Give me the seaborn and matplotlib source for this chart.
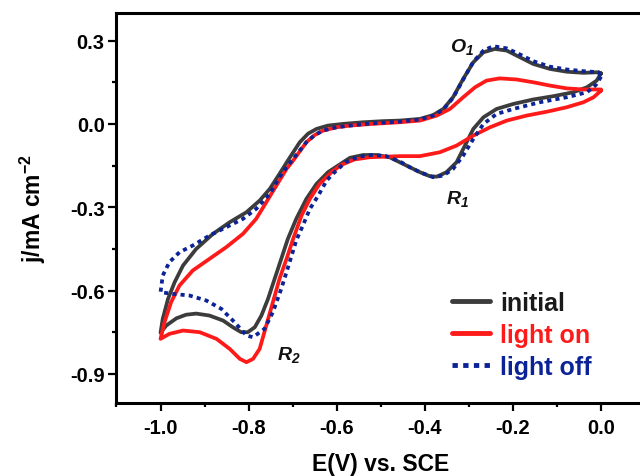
import matplotlib
matplotlib.use("Agg")
import matplotlib.pyplot as plt
from matplotlib.ticker import MultipleLocator
import numpy as np
import pandas as pd
import seaborn as sns

# Cyclic voltammograms: potential (V vs. SCE) and current density (mA cm^-2),
# each traced from 0 V down to -1.0 V (cathodic sweep) and back up to 0 V.
initial_E = [0.0, -0.010, -0.032, -0.063, -0.108, -0.154, -0.199, -0.237, -0.267, -0.290,
             -0.309, -0.328, -0.351, -0.373, -0.389, -0.411, -0.434, -0.457, -0.48, -0.51,
             -0.54, -0.57, -0.597, -0.620, -0.646, -0.669, -0.692, -0.711, -0.726, -0.741,
             -0.756, -0.771, -0.786, -0.802, -0.817, -0.836, -0.858, -0.889, -0.919,
             -0.942, -0.964, -0.987, -1.0,
             -0.995, -0.983, -0.968, -0.949, -0.919, -0.881, -0.843, -0.805, -0.775,
             -0.752, -0.730, -0.711, -0.684, -0.665, -0.646, -0.62, -0.586, -0.54, -0.495,
             -0.457, -0.411, -0.381, -0.358, -0.336, -0.313, -0.290, -0.267, -0.241,
             -0.214, -0.184, -0.154, -0.116, -0.078, -0.040, -0.006, 0.0]
initial_j = [0.182, 0.156, 0.132, 0.114, 0.100, 0.088, 0.072, 0.054, 0.024, -0.018,
             -0.078, -0.138, -0.174, -0.190, -0.188, -0.174, -0.156, -0.138, -0.12, -0.112,
             -0.112, -0.122, -0.150, -0.174, -0.216, -0.270, -0.342, -0.414, -0.486, -0.558,
             -0.630, -0.690, -0.732, -0.750, -0.750, -0.732, -0.708, -0.690, -0.683,
             -0.687, -0.700, -0.726, -0.752,
             -0.702, -0.630, -0.570, -0.510, -0.450, -0.396, -0.354, -0.318, -0.276,
             -0.234, -0.180, -0.132, -0.066, -0.035, -0.018, -0.006, 0.0, 0.006, 0.010,
             0.012, 0.018, 0.032, 0.054, 0.096, 0.162, 0.222, 0.258, 0.270,
             0.264, 0.240, 0.216, 0.198, 0.188, 0.184, 0.186, 0.182]

light_on_E = [0.0, -0.017, -0.040, -0.078, -0.123, -0.169, -0.214, -0.252, -0.290, -0.328,
              -0.366, -0.411, -0.457, -0.49, -0.525, -0.56, -0.59, -0.612, -0.639, -0.661,
              -0.680, -0.699, -0.714, -0.730, -0.745, -0.760, -0.775, -0.790, -0.805,
              -0.820, -0.843, -0.873, -0.911, -0.949, -0.980, -1.0,
              -0.991, -0.976, -0.957, -0.927, -0.889, -0.851, -0.813, -0.783, -0.760,
              -0.737, -0.714, -0.699, -0.669, -0.65, -0.631, -0.60, -0.57, -0.52, -0.457,
              -0.411, -0.373, -0.343, -0.313, -0.286, -0.260, -0.230, -0.192, -0.154,
              -0.116, -0.078, -0.040, 0.0, 0.0]
light_on_j = [0.120, 0.096, 0.078, 0.060, 0.044, 0.030, 0.012, -0.012, -0.042, -0.078,
              -0.102, -0.116, -0.116, -0.118, -0.12, -0.128, -0.148, -0.174, -0.216, -0.270,
              -0.330, -0.414, -0.486, -0.558, -0.642, -0.726, -0.810, -0.846, -0.858,
              -0.846, -0.810, -0.774, -0.750, -0.744, -0.756, -0.774,
              -0.714, -0.642, -0.582, -0.528, -0.486, -0.444, -0.396, -0.342, -0.282,
              -0.222, -0.162, -0.132, -0.066, -0.04, -0.024, -0.012, -0.006, 0.0, 0.006,
              0.012, 0.030, 0.054, 0.096, 0.132, 0.156, 0.164, 0.160, 0.150,
              0.138, 0.128, 0.124, 0.124, 0.120]

light_off_E = [0.0, -0.012, -0.032, -0.078, -0.139, -0.199, -0.237, -0.267, -0.290, -0.313,
               -0.336, -0.358, -0.381, -0.411, -0.434, -0.457, -0.49, -0.52, -0.55, -0.58,
               -0.605, -0.623, -0.642, -0.661, -0.677, -0.692, -0.707, -0.726, -0.745,
               -0.764, -0.790, -0.805, -0.832, -0.862, -0.896, -0.934, -0.972, -1.0,
               -0.995, -0.980, -0.957, -0.927, -0.889, -0.851, -0.813, -0.783, -0.752,
               -0.730, -0.714, -0.699, -0.669, -0.65, -0.631, -0.60, -0.57, -0.52, -0.457,
               -0.411, -0.381, -0.358, -0.336, -0.313, -0.290, -0.267, -0.245, -0.214,
               -0.184, -0.154, -0.116, -0.078, -0.040, -0.006, 0.0]
light_off_j = [0.170, 0.140, 0.114, 0.096, 0.078, 0.054, 0.036, 0.0, -0.054, -0.114,
               -0.162, -0.186, -0.192, -0.174, -0.156, -0.135, -0.115, -0.112, -0.118, -0.138,
               -0.174, -0.204, -0.258, -0.306, -0.366, -0.420, -0.498, -0.594, -0.678,
               -0.738, -0.768, -0.762, -0.714, -0.666, -0.636, -0.618, -0.612, -0.606,
               -0.546, -0.498, -0.462, -0.438, -0.402, -0.372, -0.342, -0.306, -0.252,
               -0.192, -0.156, -0.126, -0.066, -0.04, -0.024, -0.012, -0.006, 0.002, 0.008,
               0.016, 0.030, 0.052, 0.094, 0.160, 0.224, 0.264, 0.280, 0.272,
               0.250, 0.226, 0.206, 0.196, 0.190, 0.186, 0.170]

series_names = ["initial", "light on", "light off"]
series_colors = ["#3c3c3c", "#ff1a1a", "#0b2396"]
label_colors = ["#1a1a1a", "#ff1a1a", "#0b2396"]
x_ticks = [-1.0, -0.8, -0.6, -0.4, -0.2, 0.0]
y_ticks = [-0.9, -0.6, -0.3, 0.0, 0.3]
peak_labels = ["O$_1$", "R$_1$", "R$_2$"]
peak_positions = [(-0.316, 0.281), (-0.325, -0.266), (-0.709, -0.828)]

sns.set_theme(style="ticks")
plt.rcParams["font.family"] = ["Liberation Sans", "DejaVu Sans"]
plt.rcParams["font.weight"] = "bold"
plt.rcParams["axes.labelweight"] = "bold"
plt.rcParams["axes.unicode_minus"] = False
plt.rcParams["mathtext.default"] = "regular"
for key in ["text.color", "axes.labelcolor", "xtick.color", "ytick.color",
            "axes.edgecolor"]:
    plt.rcParams[key] = "black"

fig = plt.figure(figsize=(6.4, 4.77), dpi=100)
ax = fig.add_axes([0.182, 0.153, 0.826, 0.818])

frames = []
for name, E, j in zip(series_names,
                      [initial_E, light_on_E, light_off_E],
                      [initial_j, light_on_j, light_off_j]):
    frames.append(pd.DataFrame({"E": E, "j": j, "series": name,
                                "order": np.arange(len(E))}))
data = pd.concat(frames, ignore_index=True)

styles = {"initial": "-", "light on": "-", "light off": (0, (1.1, 1.1))}
for name, color in zip(series_names, series_colors):
    sub = data[data["series"] == name]
    sns.lineplot(data=sub, x="E", y="j", sort=False, estimator=None, ax=ax,
                 color=color, linewidth=2.7, linestyle=styles[name], label=name,
                 solid_joinstyle="round", solid_capstyle="round")

ax.set_xlim(-1.1, 0.1)
ax.set_ylim(-1.005, 0.4)
ax.set_xticks(x_ticks)
ax.set_yticks(y_ticks)
ax.set_xticklabels([f"{v:.1f}" for v in x_ticks])
ax.set_yticklabels([f"{v:.1f}" for v in y_ticks])
ax.xaxis.set_minor_locator(MultipleLocator(0.1))
ax.yaxis.set_minor_locator(MultipleLocator(0.15))
ax.tick_params(which="major", direction="out", length=5.5, width=1.6,
               labelsize=14.5, pad=3)
ax.tick_params(which="minor", direction="out", length=3, width=1.6)
ax.tick_params(axis="x", pad=5)
ax.tick_params(top=False, right=False, which="both")
for lab in ax.get_xticklabels() + ax.get_yticklabels():
    lab.set_fontweight("bold")
for side in ["left", "bottom", "top", "right"]:
    ax.spines[side].set_linewidth(2.2)

ax.set_xlabel("E(V) vs. SCE", fontsize=16.5, fontweight="bold", labelpad=11)
ax.set_ylabel("j/mA cm$^{-2}$", fontsize=16.5, fontweight="bold", labelpad=16)

for txt, (ex, jy) in zip(peak_labels, peak_positions):
    ax.text(ex, jy, txt, fontsize=14, fontweight="bold", fontstyle="italic",
            ha="center", va="center", color="#111111")

leg = ax.legend(loc="upper left", bbox_to_anchor=(0.635, 0.288), frameon=False,
                fontsize=18, handlelength=1.5, handletextpad=0.42,
                labelspacing=0.33, borderpad=0, borderaxespad=0)
for text, color in zip(leg.get_texts(), label_colors):
    text.set_color(color)
    text.set_fontweight("bold")
for line in leg.get_lines():
    line.set_linewidth(3.5)

fig.savefig("out.png", dpi=100)
